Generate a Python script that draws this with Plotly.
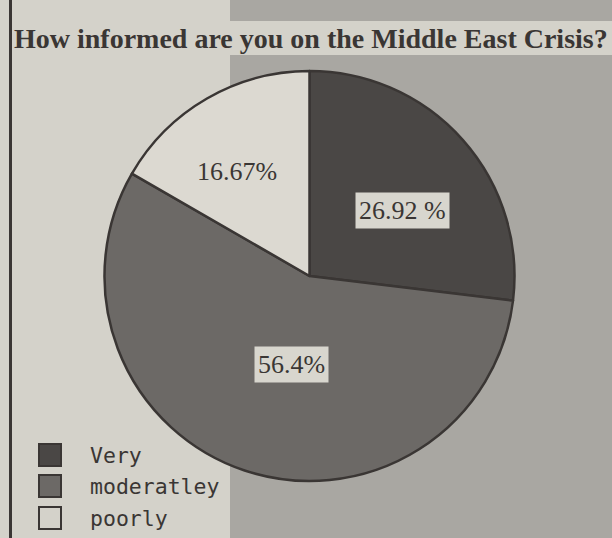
import plotly.graph_objects as go

W, H = 612, 538
title_text = "How informed are you on the Middle East Crisis?"
categories = ["Very", "moderatley", "poorly"]
values = [26.92, 56.4, 16.67]
label_texts = ["26.92 %", "56.4%", "16.67%"]

slice_colors = ["#4a4745", "#6c6966", "#dcd9d1"]
ink = "#3a3634"
paper = "#d4d2ca"
halftone = "#a9a7a2"

# pie geometry (pixels)
cx, cy, r = 309.5, 276, 205

def px(x):
    return x / W

def py(y):
    return 1 - y / H

fig = go.Figure()
fig.add_trace(go.Pie(
    labels=categories,
    values=values,
    sort=False,
    direction="clockwise",
    rotation=0,
    textinfo="none",
    hoverinfo="label+percent",
    marker=dict(colors=slice_colors, line=dict(color=ink, width=2.5)),
    domain=dict(x=[px(cx - r), px(cx + r)], y=[py(cy + r), py(cy - r)]),
    showlegend=False,
))

shapes = [
    # halftone right region
    dict(type="rect", xref="paper", yref="paper", x0=px(230), x1=1.0, y0=0, y1=1,
         fillcolor=halftone, line=dict(width=0), layer="below"),
    # title band
    dict(type="rect", xref="paper", yref="paper", x0=px(12), x1=1.0, y0=py(55), y1=py(21),
         fillcolor=paper, line=dict(width=0), layer="below"),
    # left rule
    dict(type="line", xref="paper", yref="paper", x0=px(10.5), x1=px(10.5), y0=0, y1=1,
         line=dict(color=ink, width=3)),
]

annotations = [
    dict(text="<b>" + title_text + "</b>", xref="paper", yref="paper",
         x=px(12), y=py(38), xanchor="left", yanchor="middle", showarrow=False,
         font=dict(family="Liberation Serif", size=28, color=ink)),
]

# slice labels
label_pos = [(402, 210), (291, 364), (237, 172)]
label_bg = ["#d8d6ce", "#d8d6ce", None]
for t, (lx, ly), bg in zip(label_texts, label_pos, label_bg):
    a = dict(text=t, xref="paper", yref="paper", x=px(lx), y=py(ly),
             xanchor="center", yanchor="middle", showarrow=False,
             font=dict(family="Liberation Serif", size=26, color=ink))
    if bg:
        a.update(bgcolor=bg, borderpad=3)
    annotations.append(a)

# legend (manual)
leg_y = [455, 486, 518]
leg_fill = [slice_colors[0], slice_colors[1], paper]
for name, yy, fc in zip(categories, leg_y, leg_fill):
    shapes.append(dict(type="rect", xref="paper", yref="paper",
                       x0=px(39), x1=px(61), y0=py(yy + 11), y1=py(yy - 11),
                       fillcolor=fc, line=dict(color=ink, width=2)))
    annotations.append(dict(text=name, xref="paper", yref="paper", x=px(88), y=py(yy),
                            xanchor="left", yanchor="middle", showarrow=False,
                            font=dict(family="DejaVu Sans Mono", size=21.5, color=ink)))

fig.update_layout(
    width=W, height=H,
    margin=dict(l=0, r=0, t=0, b=0),
    paper_bgcolor=paper, plot_bgcolor=paper,
    shapes=shapes, annotations=annotations,
    showlegend=False,
)

fig.write_html("out.html")
